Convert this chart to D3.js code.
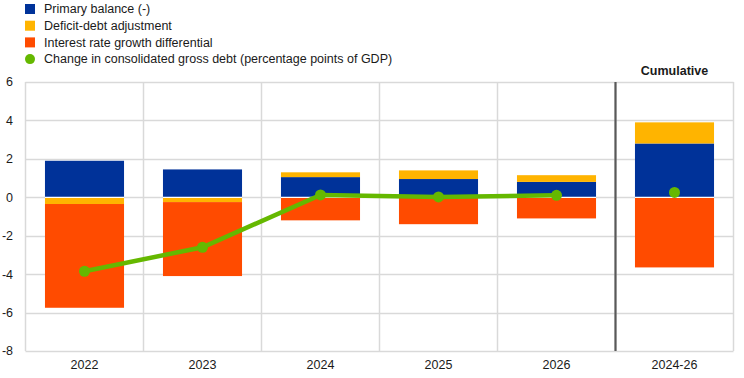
<!DOCTYPE html>
<html><head><meta charset="utf-8">
<script src="https://cdn.jsdelivr.net/npm/d3@7"></script>
<style>body{margin:0;background:#fff}svg{display:block;font-family:"Liberation Sans",Arial,sans-serif}</style>
</head><body><svg id="c" width="744" height="378"></svg>
<script>
const categories = ["2022","2023","2024","2025","2026","2024-26"];
const primaryBalance = [1.9, 1.45, 1.05, 0.95, 0.8, 2.8];
const deficitDebt = [-0.35, -0.25, 0.25, 0.45, 0.35, 1.1];
const interestGrowth = [-5.4, -3.85, -1.2, -1.4, -1.1, -3.65];
const debtChange = [-3.85, -2.6, 0.12, 0.02, 0.1, 0.25];
const yTicks = [6,4,2,0,-2,-4,-6,-8];
const seriesNames = ["Primary balance (-)","Deficit-debt adjustment","Interest rate growth differential"];
const lineName = "Change in consolidated gross debt (percentage points of GDP)";
const colors = ["#003299","#ffb400","#ff4b00"];
const green = "#65b800";
const fs = 12.5;

const svg = d3.select("#c");
const L=25.5, R=733.5, T=82, B=351;
const x = d3.scaleBand().domain(categories).range([L,R]).paddingInner(0.33).paddingOuter(0.165);
const y = d3.scaleLinear().domain([-8,6]).range([B,T]);

// grid
const band = (R-L)/categories.length;
svg.append("g").selectAll("line").data(yTicks).join("line")
  .attr("x1",L).attr("x2",R).attr("y1",d=>Math.round(y(d))+0.5).attr("y2",d=>Math.round(y(d))+0.5)
  .attr("stroke","#d9d9d9").attr("stroke-width",1.5);
svg.append("g").selectAll("line").data(d3.range(categories.length+1)).join("line")
  .attr("x1",i=>L+i*band).attr("x2",i=>L+i*band).attr("y1",T).attr("y2",B)
  .attr("stroke","#d9d9d9").attr("stroke-width",1.5);

// stacked bars
const rows = categories.map((c,i)=>({cat:c,p:primaryBalance[i],d:deficitDebt[i],g:interestGrowth[i]}));
const stack = d3.stack().keys(["p","d","g"]).offset(d3.stackOffsetDiverging)(rows);
svg.append("g").selectAll("g").data(stack).join("g").attr("fill",(d,i)=>colors[i])
  .selectAll("rect").data(d=>d).join("rect")
  .attr("x",d=>x(d.data.cat)).attr("width",x.bandwidth())
  .attr("y",d=>y(Math.max(d[0],d[1]))).attr("height",d=>Math.abs(y(d[0])-y(d[1])));
// white zero separator on bars
svg.append("g").selectAll("line").data(categories).join("line")
  .attr("x1",d=>x(d)).attr("x2",d=>x(d)+x.bandwidth()).attr("y1",y(0)).attr("y2",y(0))
  .attr("stroke","#fff").attr("stroke-width",1.2);

// separator
svg.append("line").attr("x1",L+5*band).attr("x2",L+5*band).attr("y1",T).attr("y2",B)
  .attr("stroke","#595959").attr("stroke-width",2.2);

// line (years only) and dots
const cx = c=>x(c)+x.bandwidth()/2;
svg.append("path").datum(categories.slice(0,5))
  .attr("d",d3.line().x(c=>cx(c)).y((c,i)=>y(debtChange[i])))
  .attr("fill","none").attr("stroke",green).attr("stroke-width",4.5);
svg.append("g").selectAll("circle").data(categories).join("circle")
  .attr("cx",c=>cx(c)).attr("cy",(c,i)=>y(debtChange[i])).attr("r",5.5).attr("fill",green);

// axes labels
svg.append("g").selectAll("text").data(yTicks).join("text")
  .attr("x",13).attr("y",d=>y(d)).attr("dy","0.35em").attr("text-anchor","end")
  .attr("font-size",fs).attr("fill","#1a1a1a").text(d=>d);
svg.append("g").selectAll("text").data(categories).join("text")
  .attr("x",c=>cx(c)).attr("y",369).attr("text-anchor","middle")
  .attr("font-size",fs).attr("fill","#1a1a1a").text(c=>c);
svg.append("text").attr("x",cx("2024-26")).attr("y",75).attr("text-anchor","middle")
  .attr("font-size",fs).attr("font-weight","bold").attr("fill","#1a1a1a").text("Cumulative");

// legend
const lg = svg.append("g");
seriesNames.forEach((n,i)=>{
  const yy = 9 + i*16.7;
  lg.append("rect").attr("x",25).attr("y",yy-5).attr("width",10).attr("height",10).attr("fill",colors[i]);
  lg.append("text").attr("x",44).attr("y",yy).attr("dy","0.35em").attr("font-size",fs).attr("fill","#1a1a1a").text(n);
});
lg.append("circle").attr("cx",30).attr("cy",9+3*16.7).attr("r",5).attr("fill",green);
lg.append("text").attr("x",44).attr("y",9+3*16.7).attr("dy","0.35em").attr("font-size",fs).attr("fill","#1a1a1a").text(lineName);
</script></body></html>
